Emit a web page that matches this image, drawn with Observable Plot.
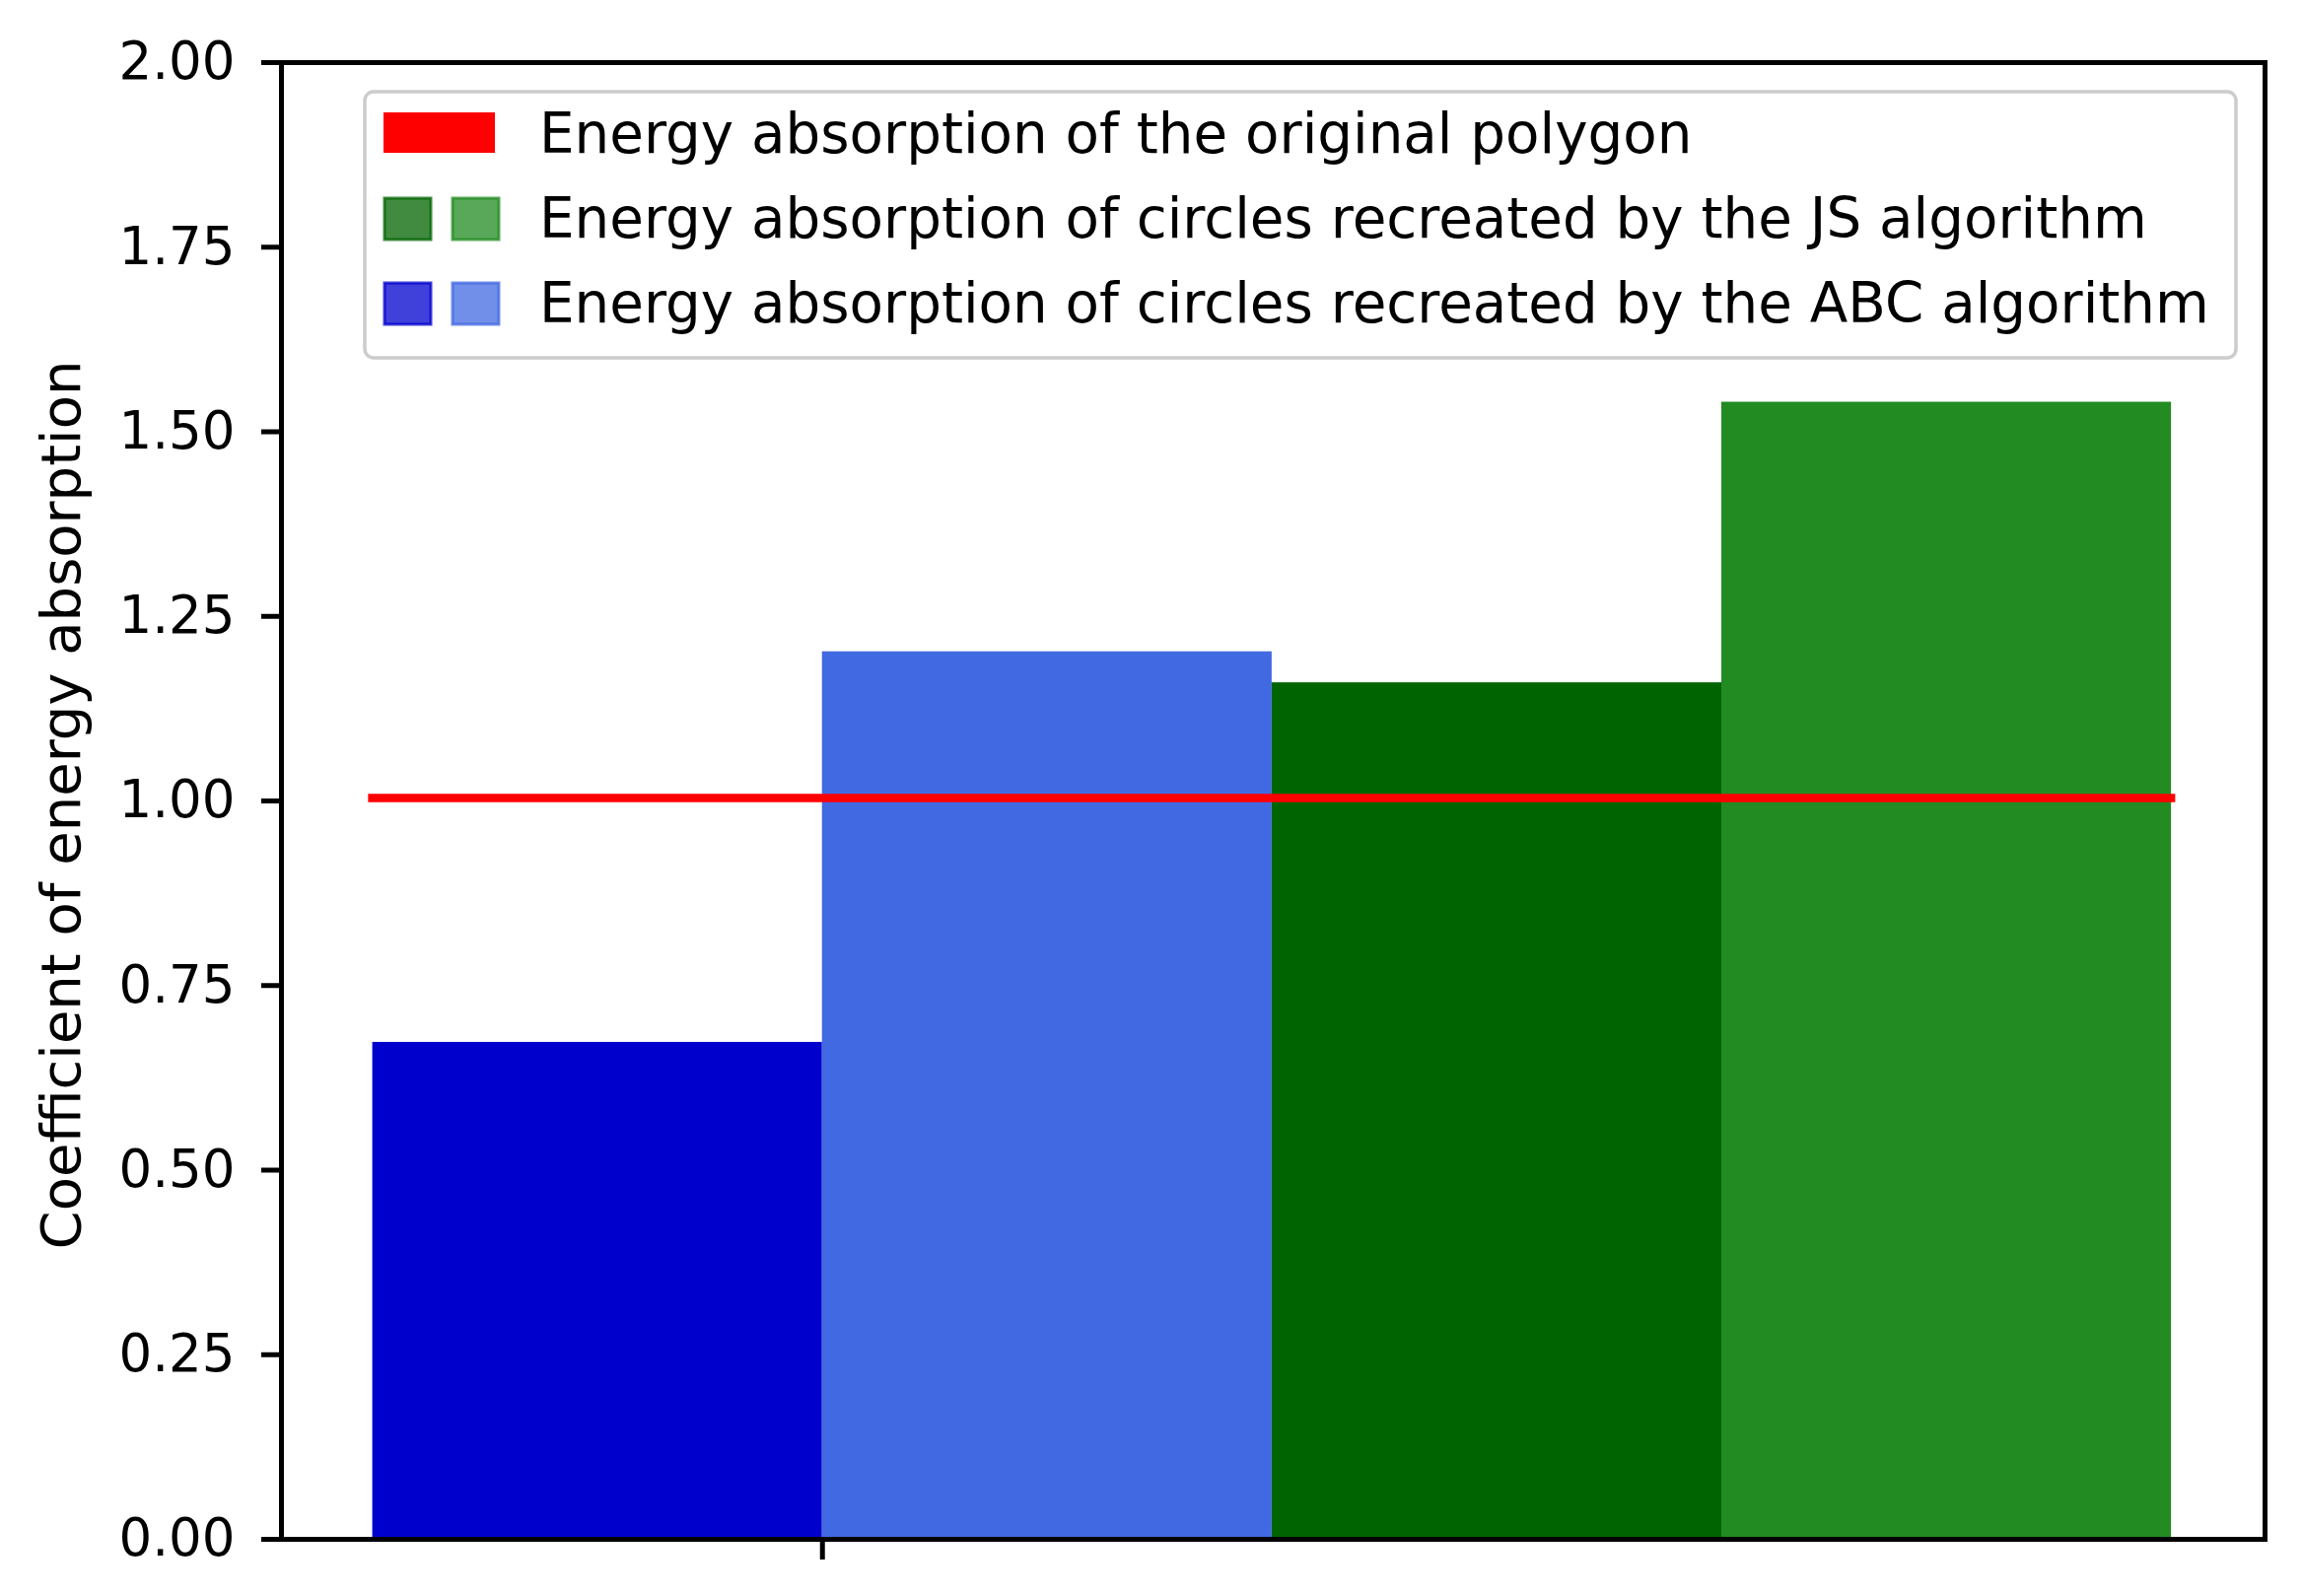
<!DOCTYPE html>
<html>
<head>
<meta charset="utf-8">
<script src="https://cdn.jsdelivr.net/npm/d3@7"></script>
<script src="https://cdn.jsdelivr.net/npm/@observablehq/plot@0.6"></script>
<style>
  html, body { margin: 0; padding: 0; background: #fff; }
  #wrap { position: relative; width: 2335px; height: 1619px; font-family: "DejaVu Sans", sans-serif; }
  #legend { position: absolute; left: 0; top: 0; pointer-events: none; }
</style>
</head>
<body>
<div id="wrap"></div>
<script>
// ---------- data ----------
const barNames  = ["ABC circle 1", "ABC circle 2", "JS circle 1", "JS circle 2"];
const barValues = [0.673, 1.202, 1.160, 1.540];
const barColors = ["#0000CD", "#4169E1", "#006400", "#228B22"];
const barStarts = [-1, 0, 1, 2];
const barWidth = 1;
const originalValue = 1.004;
const yTicks = [0, 0.25, 0.5, 0.75, 1.0, 1.25, 1.5, 1.75, 2.0];
const xTicks = [0];
const yLabel = "Coefficient of energy absorption";
const legendLabels = [
  "Energy absorption of the original polygon",
  "Energy absorption of circles recreated by the JS algorithm",
  "Energy absorption of circles recreated by the ABC algorithm"
];
const legendSwatches = [["#FF0000"], ["#006400", "#228B22"], ["#0000CD", "#4169E1"]];

// ---------- table ----------
const bars = barNames.map((name, i) => ({
  name, value: barValues[i], color: barColors[i],
  x1: barStarts[i], x2: barStarts[i] + barWidth
}));
const lineX1 = d3.min(barStarts);
const lineX2 = d3.max(barStarts) + barWidth;

const W = 2335, H = 1619;
const chart = Plot.plot({
  width: W, height: H,
  marginLeft: 285, marginRight: 38, marginTop: 63, marginBottom: 58,
  style: { fontFamily: "DejaVu Sans", fontSize: "53px", color: "black", background: "white" },
  x: { domain: [-1.203, 3.208] },
  y: { domain: [0, 2] },
  color: { type: "identity" },
  marks: [
    Plot.rectY(bars, { x1: "x1", x2: "x2", y1: 0, y2: "value", fill: "color" }),
    Plot.ruleY([originalValue], { x1: lineX1, x2: lineX2, stroke: "#FF0000", strokeWidth: 8.5, strokeLinecap: "square" }),
    Plot.axisY({ ticks: yTicks, tickFormat: d3.format(".2f"), tickSize: 20, tickPadding: 27, strokeWidth: 5, fontSize: 53, label: null }),
    Plot.axisX({ ticks: xTicks, tickFormat: () => "", tickSize: 21, strokeWidth: 5, label: null }),
    Plot.text([yLabel], { text: d => d, frameAnchor: "left", textAnchor: "middle", rotate: -90, dx: -205, dy: 4, lineAnchor: "bottom", fontSize: 56, fill: "black" }),
    Plot.frame({ stroke: "black", strokeWidth: 5 })
  ]
});

const wrap = document.getElementById("wrap");
wrap.appendChild(chart);

// ---------- legend overlay ----------
const svg = d3.select(wrap).append("svg")
  .attr("id", "legend").attr("width", W).attr("height", H);
svg.append("rect")
  .attr("x", 370).attr("y", 93).attr("width", 1898).attr("height", 270)
  .attr("rx", 9).attr("ry", 9)
  .attr("fill", "white").attr("fill-opacity", 0.8)
  .attr("stroke", "#cccccc").attr("stroke-width", 3.5);

const rowBase = [155, 241, 327];
legendLabels.forEach((lab, i) => {
  const sw = legendSwatches[i];
  if (sw.length === 1) {
    svg.append("rect").attr("x", 389).attr("y", rowBase[i] - 41).attr("width", 113).attr("height", 41)
      .attr("fill", sw[0]);
  } else {
    sw.forEach((c, j) => {
      svg.append("rect").attr("x", 390 + j * 69).attr("y", rowBase[i] - 40).attr("width", 47).attr("height", 42)
        .attr("fill", c).attr("fill-opacity", 0.75)
        .attr("stroke", c).attr("stroke-opacity", 0.75).attr("stroke-width", 3);
    });
  }
  svg.append("text").attr("x", 547).attr("y", rowBase[i])
    .attr("font-family", "DejaVu Sans").attr("font-size", 56.3).attr("fill", "black")
    .text(lab);
});
</script>
</body>
</html>
